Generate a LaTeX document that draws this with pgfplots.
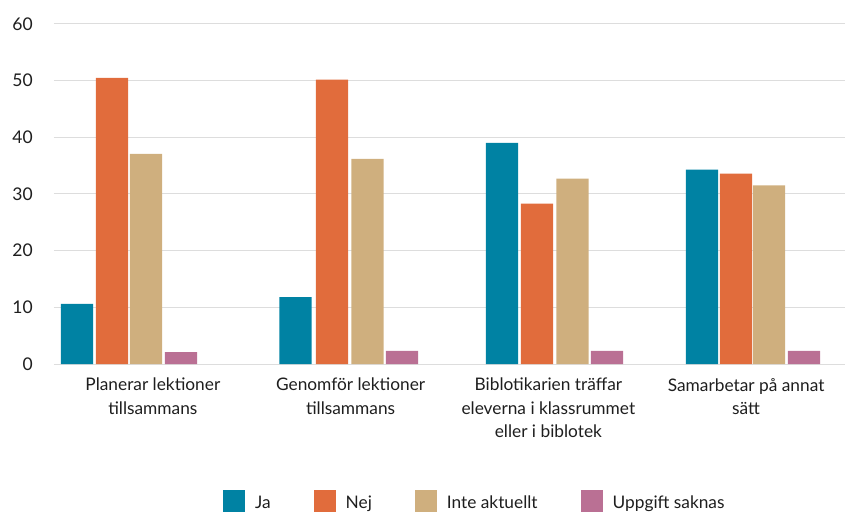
\documentclass[border=0pt]{standalone}
\usepackage{pgfplots}
\pgfplotsset{compat=1.18}
\usepackage{fontspec}
\setmainfont{Lato}
\definecolor{ja}{RGB}{0,130,163}
\definecolor{nej}{RGB}{225,108,60}
\definecolor{inte}{RGB}{207,175,126}
\definecolor{uppg}{RGB}{186,112,148}
\definecolor{gridgray}{RGB}{221,221,221}
\definecolor{txt}{RGB}{30,30,30}

\begin{document}
\begin{tikzpicture}
\useasboundingbox (-54pt,-147pt) rectangle (791pt,364pt);
\begin{axis}[
    at={(0pt,0pt)}, anchor=south west,
    scale only axis, width=791pt, height=340pt,
    ymin=0, ymax=60, ytick={0,10,...,60},
    xmin=-0.5, xmax=3.5,
    xtick={0,1,2,3},
    xticklabels={
        Planerar lektioner\\tillsammans,
        Genomför lektioner\\tillsammans,
        Biblotikarien träffar\\eleverna i klassrummet\\eller i biblotek,
        Samarbetar på annat\\sätt},
    ybar, bar width=0.162,
    ymajorgrids, grid style={draw=gridgray, line width=1pt},
    axis line style={draw=none},
    major tick length=0pt,
    /pgf/number format/assume math mode=true,
    yticklabel style={anchor=east, inner sep=0pt, xshift=-21pt,
        font=\fontsize{17.5}{20}\selectfont, text=txt},
    xticklabel style={anchor=north, inner sep=0pt, yshift=-14pt, align=center,
        font=\fontsize{17.3}{23.5}\selectfont, text=txt},
    legend style={
        at={(axis description cs:0.532,-0.364)}, anchor=north,
        legend columns=-1, draw=none, fill=none,
        font=\fontsize{17.3}{20}\selectfont, text=txt,
        /tikz/every odd column/.append style={column sep=8pt},
        /tikz/every even column/.append style={column sep=41pt}
    },
    legend image code/.code={\fill[#1] (0pt,-9pt) rectangle (22pt,13pt);},
]
\addplot[draw=none, fill=ja, bar shift=0pt] coordinates {
    (-0.3837,10.6) (0.7212,11.8) (1.7655,39.0) (2.7769,34.3)};
\addplot[draw=none, fill=nej, bar shift=0pt] coordinates {
    (-0.2067,50.5) (0.9058,50.2) (1.9425,28.3) (2.9488,33.6)};
\addplot[draw=none, fill=inte, bar shift=0pt] coordinates {
    (-0.0348,37.1) (1.0853,36.2) (2.1220,32.7) (3.1157,31.5)};
\addplot[draw=none, fill=uppg, bar shift=0pt] coordinates {
    (0.1422,2.1) (1.2598,2.3) (2.2965,2.3) (3.2927,2.3)};
\legend{Ja, Nej, Inte aktuellt, Uppgift saknas}
\end{axis}
\end{tikzpicture}
\end{document}
